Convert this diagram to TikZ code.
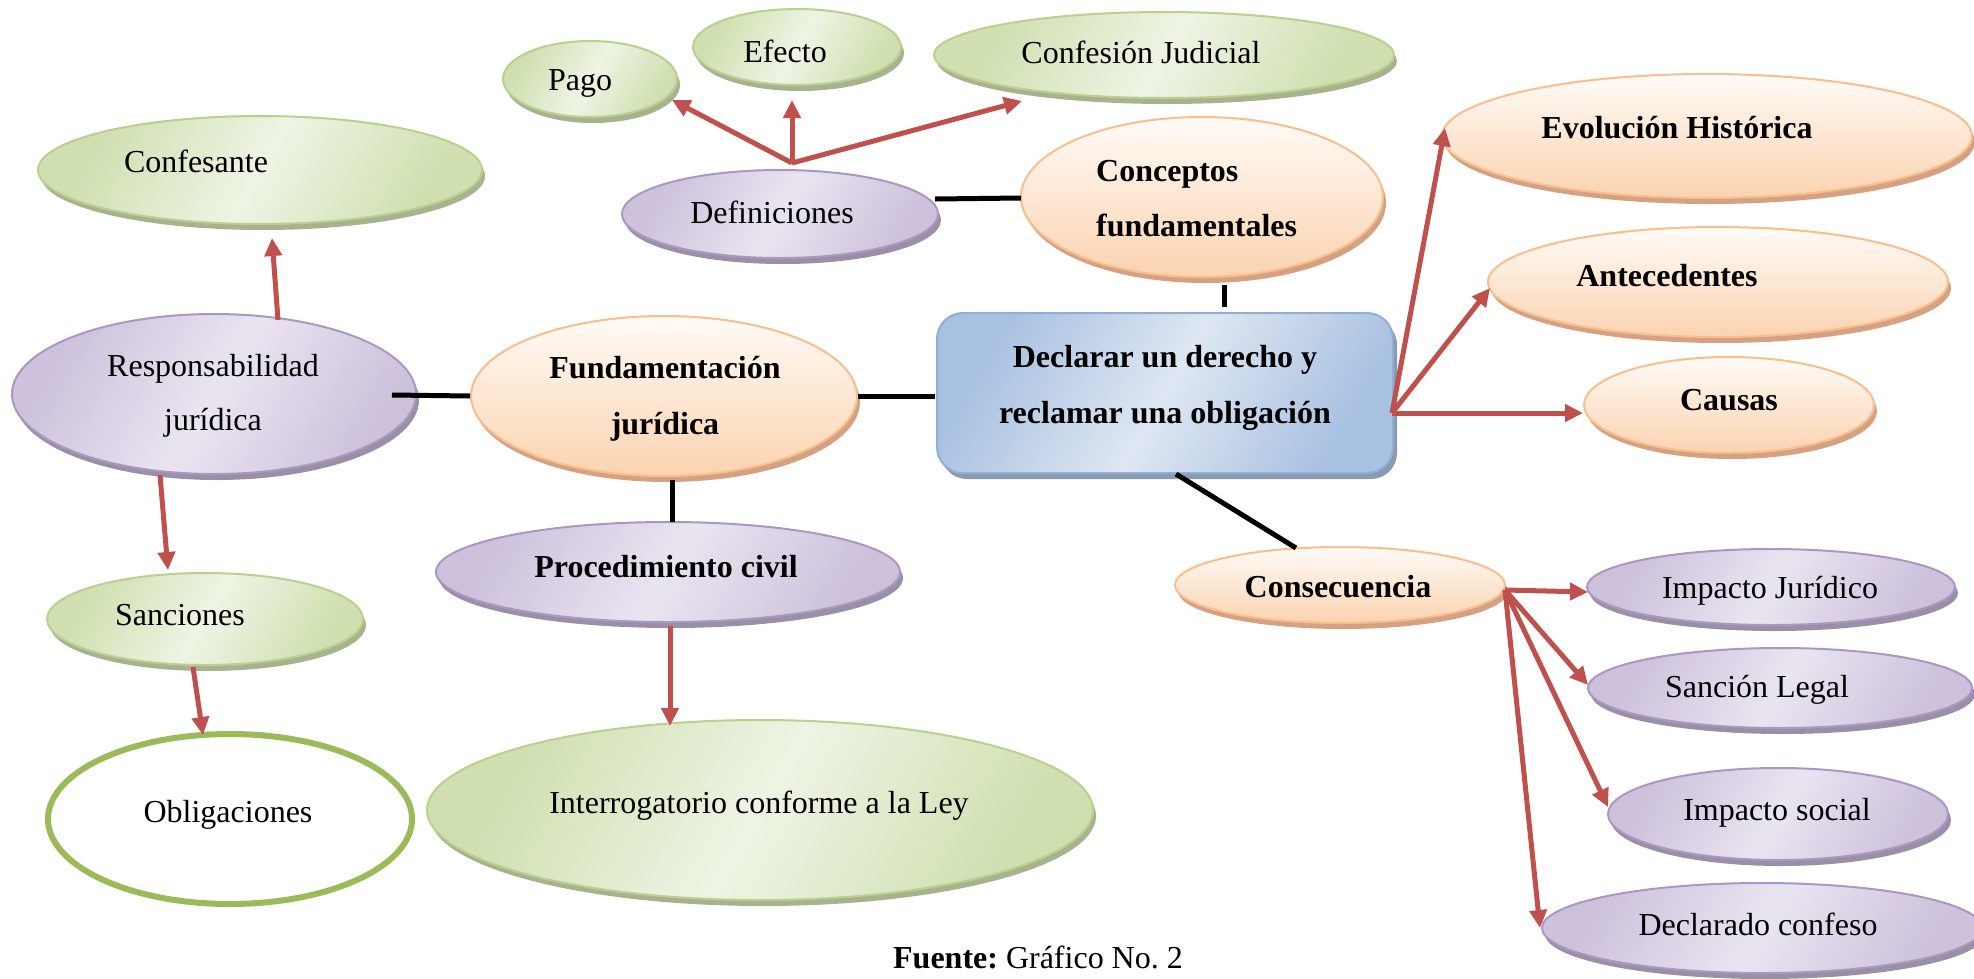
\documentclass[tikz,border=0pt]{standalone}
\usepackage{fontspec}
\setmainfont{Liberation Serif}
\usetikzlibrary{shapes.geometric,shadows,arrows.meta,calc}
\definecolor{glight}{HTML}{EEF4E4}
\definecolor{gdark}{HTML}{CFDFAF}
\definecolor{gborder}{HTML}{B9D08F}
\definecolor{gshadow}{HTML}{A7B38E}
\definecolor{plight}{HTML}{E9E5F0}
\definecolor{pdark}{HTML}{CDC1DC}
\definecolor{pborder}{HTML}{AA98C2}
\definecolor{pshadow}{HTML}{9A90A6}
\definecolor{olight}{HTML}{FFFBF7}
\definecolor{odark}{HTML}{FBD3B0}
\definecolor{oborder}{HTML}{F9BE8C}
\definecolor{oshadow}{HTML}{D4A283}
\definecolor{blight}{HTML}{DEE7F2}
\definecolor{bdark}{HTML}{A9C1E1}
\definecolor{bborder}{HTML}{8FAFD6}
\definecolor{bshadow}{HTML}{8A9BB0}
\definecolor{arrred}{HTML}{C0504D}
\definecolor{obgreen}{HTML}{9BBB59}
\tikzset{
  ell/.style={ellipse, inner sep=0pt, line width=2pt},
  gnode/.style={ell, draw=gborder, top color=gdark, bottom color=gdark, middle color=glight, shading angle=60,
    drop shadow={shadow xshift=3pt, shadow yshift=-6pt, fill=gshadow, opacity=1}},
  pnode/.style={ell, draw=pborder, top color=pdark, bottom color=pdark, middle color=plight, shading angle=60,
    drop shadow={shadow xshift=3pt, shadow yshift=-6pt, fill=pshadow, opacity=1}},
  onode/.style={ell, draw=oborder, top color=olight, bottom color=odark,
    drop shadow={shadow xshift=3pt, shadow yshift=-6pt, fill=oshadow, opacity=1}},
  bnode/.style={rectangle, rounded corners=26pt, inner sep=0pt, line width=2pt, draw=bborder,
    top color=bdark, bottom color=bdark, middle color=blight, shading angle=60,
    drop shadow={shadow xshift=4pt, shadow yshift=-6pt, fill=bshadow, opacity=1}},
  lbl/.style={inner sep=0pt, anchor=base, font=\fontsize{32}{38}\selectfont},
  blbl/.style={inner sep=0pt, anchor=base, font=\fontsize{32}{38}\selectfont\bfseries},
  arr/.style={draw=arrred, line width=5pt, -{Triangle[length=18pt,width=17pt]}, fill=arrred},
  blk/.style={draw=black, line width=5pt},
}
\begin{document}
\begin{tikzpicture}[x=1pt,y=-1pt]
\useasboundingbox (0,0) rectangle (1974,978);
\clip (0,0) rectangle (1974,978);
\fill[white] (0,0) rectangle (1974,978);

% shapes
\node[gnode, minimum width=174pt, minimum height=76pt] (pago) at (590,79) {};
\node[gnode, minimum width=208pt, minimum height=76pt] (efecto) at (797,47) {};
\node[gnode, minimum width=460pt, minimum height=86pt] (confesion) at (1164,55) {};
\node[pnode, minimum width=316pt, minimum height=88pt] (defin) at (780,214) {};
\node[onode, minimum width=362pt, minimum height=160pt] (conceptos) at (1202,197) {};
\node[onode, minimum width=530pt, minimum height=124pt] (evol) at (1707,136) {};
\node[onode, minimum width=460pt, minimum height=110pt] (antec) at (1718,282) {};
\node[onode, minimum width=290pt, minimum height=96pt] (causas) at (1729,405) {};
\node[bnode, minimum width=456pt, minimum height=160pt] (box) at (1165,393) {};
\node[onode, minimum width=386pt, minimum height=160pt] (fund) at (664,396) {};
\node[pnode, minimum width=404pt, minimum height=160pt] (resp) at (214,394) {};
\node[gnode, minimum width=444pt, minimum height=108pt] (confesante) at (260,170) {};
\node[gnode, minimum width=316pt, minimum height=92pt] (sanciones) at (205,619) {};
\node[ellipse, inner sep=0pt, draw=obgreen, line width=6pt, fill=white, minimum width=364pt, minimum height=170pt] (oblig) at (230,819) {};
\node[pnode, minimum width=464pt, minimum height=100pt] (proc) at (668,572) {};
\node[gnode, minimum width=666pt, minimum height=180pt] (interr) at (760,810) {};
\node[onode, minimum width=330pt, minimum height=76pt] (consec) at (1340,585) {};
\node[pnode, minimum width=368pt, minimum height=76pt] (impj) at (1771,587) {};
\node[pnode, minimum width=384pt, minimum height=80pt] (sancl) at (1780,688) {};
\node[pnode, minimum width=340pt, minimum height=92pt] (imps) at (1778,814) {};
\node[pnode, minimum width=440pt, minimum height=90pt] (decl) at (1762,928) {};

% black connectors
\draw[blk] ($(defin.center)+(155,-15)$) -- ($(conceptos.center)+(-181,1)$);
\draw[blk] ($(conceptos.center)+(22,88)$) -- ($(box.center)+(59,-86)$);
\draw[blk] (fund.east) -- ($(box.center)+(-230,3)$);
\draw[blk] ($(resp.center)+(178,1)$) -- (fund.west);
\draw[blk] ($(fund.center)+(8,84)$) -- ($(proc.center)+(4,-50)$);
\draw[blk] ($(box.center)+(11,81)$) -- ($(consec.center)+(-44,-37)$);

% red arrows
\draw[arr] ($(defin.center)+(12,-51)$) -- ($(pago.center)+(82,21)$);
\draw[arr] ($(defin.center)+(12,-51)$) -- ($(efecto.center)+(-5,53)$);
\draw[arr] ($(defin.center)+(12,-51)$) -- ($(confesion.center)+(-142,46)$);
\draw[arr] ($(box.center)+(227,20)$) -- ($(evol.center)+(-262,-8)$);
\draw[arr] ($(box.center)+(227,20)$) -- ($(antec.center)+(-228,6)$);
\draw[arr] ($(box.center)+(227,20)$) -- ($(causas.center)+(-146,8)$);
\draw[arr] ($(resp.center)+(64,-74)$) -- ($(confesante.center)+(12,68)$);
\draw[arr] ($(resp.center)+(-54,81)$) -- ($(sanciones.center)+(-37,-49)$);
\draw[arr] ($(sanciones.center)+(-12,48)$) -- ($(oblig.center)+(-27,-84)$);
\draw[arr] ($(proc.center)+(2,54)$) -- ($(interr.center)+(-90,-84)$);
\draw[arr] ($(consec.center)+(165,5)$) -- ($(impj.center)+(-183,5)$);
\draw[arr] ($(consec.center)+(165,5)$) -- ($(sancl.center)+(-192,-3)$);
\draw[arr] ($(consec.center)+(165,5)$) -- ($(imps.center)+(-170,-7)$);
\draw[arr] ($(consec.center)+(165,5)$) -- ($(decl.center)+(-222,0)$);

% texts
\node[lbl] (tpago) at (580,90) {Pago};
\node[lbl] (tefecto) at (785,62) {Efecto};
\node[lbl] (tconfesion) at (1141,63) {Confesión Judicial};
\node[lbl] (tdefin) at (772,223) {Definiciones};
\node[blbl, anchor=base west] (tconc1) at (1096,181) {Conceptos};
\node[blbl, anchor=base west] (tconc2) at (1096,236) {fundamentales};
\node[blbl] (tevol) at (1677,138) {Evolución Histórica};
\node[blbl] (tantec) at (1667,286) {Antecedentes};
\node[blbl] (tcausas) at (1729,410) {Causas};
\node[blbl] (tbox1) at (1165,367) {Declarar un derecho y};
\node[blbl] (tbox2) at (1165,423) {reclamar una obligación};
\node[blbl] (tfund1) at (665,378) {Fundamentación};
\node[blbl] (tfund2) at (665,434) {jurídica};
\node[lbl] (tresp1) at (213,376) {Responsabilidad};
\node[lbl] (tresp2) at (213,430) {jurídica};
\node[lbl] (tconfesante) at (196,172) {Confesante};
\node[lbl] (tsanciones) at (180,625) {Sanciones};
\node[lbl] (toblig) at (228,822) {Obligaciones};
\node[blbl] (tproc) at (666,577) {Procedimiento civil};
\node[lbl] (tinterr) at (759,813) {Interrogatorio conforme a la Ley};
\node[blbl] (tconsec) at (1338,597) {Consecuencia};
\node[lbl] (timpj) at (1770,598) {Impacto Jurídico};
\node[lbl] (tsancl) at (1757,697) {Sanción Legal};
\node[lbl] (timps) at (1777,820) {Impacto social};
\node[lbl] (tdecl) at (1758,935) {Declarado confeso};
\node[lbl] (tfuente) at (1038,968) {\frenchspacing\textbf{Fuente:} Gráfico No. 2};
\end{tikzpicture}
\end{document}
